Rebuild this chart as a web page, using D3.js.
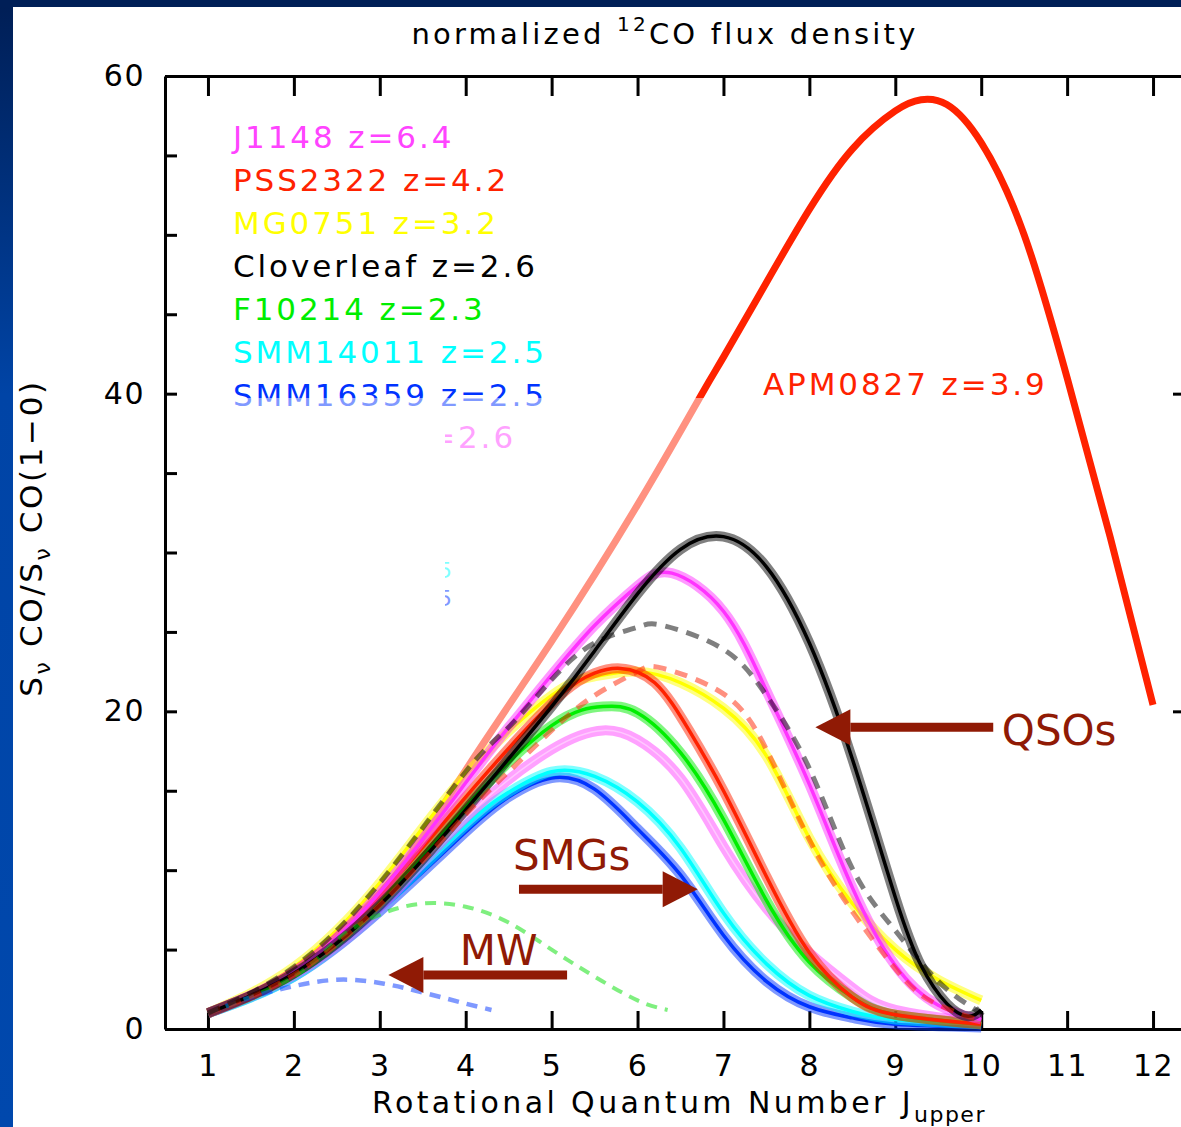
<!DOCTYPE html>
<html>
<head>
<meta charset="utf-8">
<script src="https://cdn.jsdelivr.net/npm/d3@7"></script>
<style>
  body { margin: 0; background: #fff; }
  svg { display: block; }
  text { font-family: "DejaVu Sans", sans-serif; }
</style>
</head>
<body>
<svg id="chart" width="1181" height="1127"></svg>
<script>
// tick values
const xTicks = d3.range(1, 13)
const yTicks = d3.range(0, 61, 5)
const yLabels = [0, 20, 40, 60]

// [J_upper, S/S(1-0)]
const apm0827   = [[1,1],[2,3.6],[3,8.4],[4,16.3],[5,24.4],[6,33.0],[6.75,40],[7,42.3],[7.5,47],[8,51.6],[8.5,55.4],[9,57.8],[9.3,58.5],[9.6,58.2],[10,55.8],[10.5,50.0],[11,41],[11.5,31],[12,20.4]]
const cloverleaf = [[1,1],[2,3.5],[3,7.8],[4,13.8],[5,20.3],[5.5,23.8],[6,27.4],[6.5,30.2],[7,31.0],[7.5,29.1],[8,24.3],[8.5,17],[9,8.3],[9.3,4.0],[9.6,1.6],[9.85,0.8],[10,1.2]]
const j1148     = [[1,1],[2,3.6],[3,8.6],[4,15.5],[4.5,19],[5,22.3],[5.5,25.4],[6,27.9],[6.4,28.7],[7,26.3],[7.5,21.3],[8,15.4],[8.5,8.9],[9,4.0],[9.5,1.5],[10,0.6]]
const pss2322   = [[1,1],[2,3.6],[3,8.4],[4,14.6],[5,20.5],[5.5,22.4],[5.8,22.7],[6.2,21.8],[6.6,18.8],[7,15],[7.5,9.6],[8,4.8],[8.5,2.0],[9,0.9],[10,0.3]]
const mg0751    = [[1,1],[2,3.9],[3,9.2],[4,16],[5,21],[5.5,22.2],[6,22.5],[6.5,21.8],[7,20.2],[7.5,17.2],[8,12.0],[8.5,7.9],[9,5.0],[9.5,3.1],[10,1.8]]
const f10214    = [[1,1],[2,3.5],[3,8],[4,14],[5,19.1],[5.6,20.3],[6,19.9],[6.5,17.4],[7,13.2],[7.5,8.1],[8,4.2],[8.5,2.0],[9,0.9],[10,0.3]]
const smgPink   = [[1,1],[2,3.4],[3,7.6],[4,13.3],[5,17.6],[5.6,18.8],[6,18.2],[6.5,15.8],[7,11.5],[7.5,7.6],[8,4.8],[8.5,2.6],[9,1.2],[10,0.4]]
const smm14011  = [[1,1],[2,3.3],[3,7.6],[4,12.8],[4.5,14.9],[5,16.2],[5.5,15.9],[6,14.3],[6.5,11.4],[7,7.3],[7.5,4.1],[8,2.1],[8.5,1.1],[9,0.6],[10,0.3]]
const smm16359  = [[1,1],[2,3.3],[3,7.4],[4,12.4],[4.5,14.6],[5,15.8],[5.5,15.1],[6,12.6],[6.5,9.7],[7,5.9],[7.5,3.0],[8,1.4],[8.5,0.7],[9,0.3],[10,0.1]]
const dashGray  = [[1,1],[2,3.9],[3,9.2],[4,16.2],[4.5,19],[5,22],[5.5,24.3],[6,25.3],[6.3,25.4],[7,23.9],[7.5,21],[8,16.4],[8.5,10.1],[9,6.2],[9.5,3.0],[10,1.0]]
const dashRed   = [[1,1],[2,3.4],[3,7.8],[4,13.5],[4.5,16.2],[5,18.8],[5.5,21],[6,22.5],[6.3,22.7],[7,21.1],[7.5,17.6],[8,11.9],[8.5,7.4],[9,3.8],[9.4,1.8],[10,0.5]]
const mwOuter   = [[1,1],[2,3.3],[2.5,5.6],[3,7.2],[3.5,7.9],[4,7.7],[4.5,6.7],[5,5.0],[5.5,3.3],[6,1.8],[6.35,1.2]]
const mwInner   = [[1,1],[1.5,2.0],[2,2.7],[2.5,3.1],[3,2.9],[3.5,2.3],[4,1.6],[4.3,1.2]]

const legendNames  = ["J1148  z=6.4", "PSS2322  z=4.2", "MG0751  z=3.2", "Cloverleaf  z=2.6", "F10214  z=2.3", "SMM14011  z=2.5", "SMM16359  z=2.5"]
const legendColors = ["#ff44ff", "#ff2200", "#ffff00", "#000000", "#00ee00", "#00ffff", "#0033ff"]

// solid model curves, bottom to top
const solidSeries = [
  { data: smm16359, color: "#0033ff", core: "#0033ff" },
  { data: smm14011, color: "#00ffff", core: "#00ffff" },
  { data: smgPink,  color: "#ff44ff", core: "#ffc8ff" },
  { data: f10214,   color: "#00ee00", core: "#00ee00" },
  { data: mg0751,   color: "#ffff00", core: "#ffff00" },
  { data: pss2322,  color: "#ff2200", core: "#ff2200" },
  { data: j1148,    color: "#ff33ff", core: "#ff33ff" },
  { data: cloverleaf, color: "#000000", core: "#000000" }
]
const dashedSeries = [
  { data: mwOuter,  color: "#00e000", width: 4, dash: "11,8" },
  { data: mwInner,  color: "#0033ff", width: 4.5, dash: "11,8" },
  { data: dashRed,  color: "#ff2200", width: 5, dash: "13,9" },
  { data: dashGray, color: "#000000", width: 5, dash: "13,9" }
]

// arrows: [J, value] of tail and tip
const arrows = [
  { from: [10.14, 19.0], to: [8.07, 19.0] },
  { from: [4.62, 8.8],  to: [6.70, 8.8] },
  { from: [5.18, 3.4],  to: [3.10, 3.4] }
]
const arrowLabels = [
  { text: "QSOs", at: [10.24, 17.9] },
  { text: "SMGs", at: [4.55, 10.0] },
  { text: "MW",   at: [3.93, 4.0] }
]

const svg = d3.select("#chart")
const x = d3.scaleLinear().domain([0.5, 12.5]).range([165, 1196])
const y = d3.scaleLinear().domain([0, 60]).range([1029, 76])
const line = d3.line()
  .x(d => x(d[0]))
  .y(d => y(d[1]))
  .curve(d3.curveNatural)

// slide frame
const defs = svg.append("defs")
const grad = defs.append("linearGradient").attr("id", "frameGrad")
  .attr("x1", 0).attr("y1", 0).attr("x2", 0).attr("y2", 1)
grad.append("stop").attr("offset", "0%").attr("stop-color", "#001e55")
grad.append("stop").attr("offset", "35%").attr("stop-color", "#0044a6")
grad.append("stop").attr("offset", "100%").attr("stop-color", "#0048ad")
svg.append("rect").attr("x", 0).attr("y", 0).attr("width", 13).attr("height", 1127).attr("fill", "url(#frameGrad)")
svg.append("rect").attr("x", 0).attr("y", 0).attr("width", 1181).attr("height", 7).attr("fill", "#001f57")

// legend
svg.selectAll(".legend")
  .data(legendNames)
  .join("text")
  .attr("class", "legend")
  .attr("x", 233)
  .attr("y", (d, i) => 148 + 43 * i)
  .attr("font-size", 31)
  .attr("letter-spacing", 2.9)
  .attr("fill", (d, i) => legendColors[i])
  .text(d => d)

// partly hidden legend rows
svg.append("text").attr("x", 516).attr("y", 448).attr("text-anchor", "end")
  .attr("font-size", 31).attr("letter-spacing", 2.9).attr("fill", "#ff44ff").text("z=2.6")
svg.append("text").attr("x", 452).attr("y", 578).attr("text-anchor", "end")
  .attr("font-size", 22).attr("fill", "#00ffff").text("z=2.5")
svg.append("text").attr("x", 452).attr("y", 606).attr("text-anchor", "end")
  .attr("font-size", 22).attr("fill", "#0033ff").text("z=2.5")

// APM0827
svg.append("path")
  .datum(apm0827)
  .attr("d", line)
  .attr("fill", "none")
  .attr("stroke", "#ff2200")
  .attr("stroke-width", 7)

// white cover and half transparent overlay (slide layering)
svg.append("rect").attr("x", 215).attr("y", 412).attr("width", 230).attr("height", 205).attr("fill", "#fff")
svg.append("rect").attr("x", 180).attr("y", 398).attr("width", 820).attr("height", 631)
  .attr("fill", "#fff").attr("fill-opacity", 0.5)

// axes
const axisG = svg.append("g").attr("class", "axes")
axisG.append("g")
  .attr("transform", "translate(0,1029)")
  .call(d3.axisBottom(x).tickValues(xTicks).tickSize(-18).tickSizeOuter(0).tickPadding(26))
axisG.append("g")
  .attr("transform", "translate(0,76)")
  .call(d3.axisTop(x).tickValues(xTicks).tickSize(-20).tickSizeOuter(0).tickFormat(""))
axisG.append("g")
  .attr("transform", "translate(165,0)")
  .call(d3.axisLeft(y).tickValues(yTicks).tickSize(-12).tickSizeOuter(0).tickPadding(20)
    .tickFormat(d => yLabels.includes(d) ? d : ""))
axisG.append("g")
  .attr("transform", "translate(1194,0)")
  .call(d3.axisRight(y).tickValues(yLabels).tickSize(-21).tickSizeOuter(0).tickFormat(""))
  .select(".domain").remove()
axisG.selectAll(".domain").attr("stroke", "#000").attr("stroke-width", 3)
axisG.selectAll(".tick line").attr("stroke", "#000").attr("stroke-width", 3)
axisG.selectAll(".tick text")
  .attr("font-family", "DejaVu Sans, sans-serif")
  .attr("font-size", 30)
  .attr("letter-spacing", 1.5)
  .attr("fill", "#000")

// solid curves: translucent band with a thin core
const solidG = svg.append("g")
solidSeries.forEach(function(s) {
  solidG.append("path").datum(s.data).attr("d", line)
    .attr("fill", "none").attr("stroke", s.color).attr("stroke-opacity", 0.5).attr("stroke-width", 10)
  solidG.append("path").datum(s.data).attr("d", line)
    .attr("fill", "none").attr("stroke", s.core)
    .attr("stroke-width", s.core == s.color ? 3.5 : 1.5)
})

// dashed curves
dashedSeries.forEach(function(s) {
  svg.append("path").datum(s.data).attr("d", line)
    .attr("fill", "none").attr("stroke", s.color).attr("stroke-opacity", 0.5)
    .attr("stroke-width", s.width).attr("stroke-dasharray", s.dash)
})

// APM label
svg.append("text").attr("x", 763).attr("y", 395)
  .attr("font-size", 31).attr("letter-spacing", 2.9).attr("fill", "#ff2200").text("APM0827  z=3.9")

// annotation arrows
const maroon = "#901a05"
arrows.forEach(function(a) {
  const x0 = x(a.from[0]), x1 = x(a.to[0]), yy = y(a.to[1])
  const dir = x1 > x0 ? 1 : -1
  const headLen = 35, headHalf = 18
  svg.append("line")
    .attr("x1", x0).attr("y1", yy).attr("x2", x1 - dir * headLen).attr("y2", yy)
    .attr("stroke", maroon).attr("stroke-width", 9)
  svg.append("path")
    .attr("d", d3.line()([[x1, yy], [x1 - dir * headLen, yy - headHalf], [x1 - dir * headLen, yy + headHalf]]) + "Z")
    .attr("fill", maroon)
})
svg.selectAll(".annot")
  .data(arrowLabels)
  .join("text")
  .attr("class", "annot")
  .attr("x", d => x(d.at[0]))
  .attr("y", d => y(d.at[1]))
  .attr("font-family", "Liberation Sans, Arial, sans-serif")
  .attr("font-size", 42)
  .attr("fill", maroon)
  .text(d => d.text)

// title
const title = svg.append("text").attr("x", 665).attr("y", 44).attr("text-anchor", "middle")
  .attr("font-size", 29).attr("letter-spacing", 3.2).attr("fill", "#000")
title.append("tspan").text("normalized ")
title.append("tspan").attr("dy", -13).attr("font-size", 20).text("12")
title.append("tspan").attr("dy", 13).text("CO flux density")

// x axis title
const xTitle = svg.append("text").attr("x", 372).attr("y", 1113)
  .attr("font-size", 30).attr("letter-spacing", 3.4).attr("fill", "#000")
xTitle.append("tspan").text("Rotational Quantum Number J")
xTitle.append("tspan").attr("dy", 9).attr("font-size", 22).attr("letter-spacing", 1.5).text("upper")

// y axis title
const yTitle = svg.append("text")
  .attr("transform", "translate(42,538) rotate(-90)")
  .attr("text-anchor", "middle")
  .attr("font-size", 31).attr("letter-spacing", 2.6).attr("fill", "#000")
yTitle.append("tspan").text("S")
yTitle.append("tspan").attr("dy", 8).attr("font-size", 22).text("ν")
yTitle.append("tspan").attr("dy", -8).text(" CO/S")
yTitle.append("tspan").attr("dy", 8).attr("font-size", 22).text("ν")
yTitle.append("tspan").attr("dy", -8).text(" CO(1−0)")
</script>
</body>
</html>
